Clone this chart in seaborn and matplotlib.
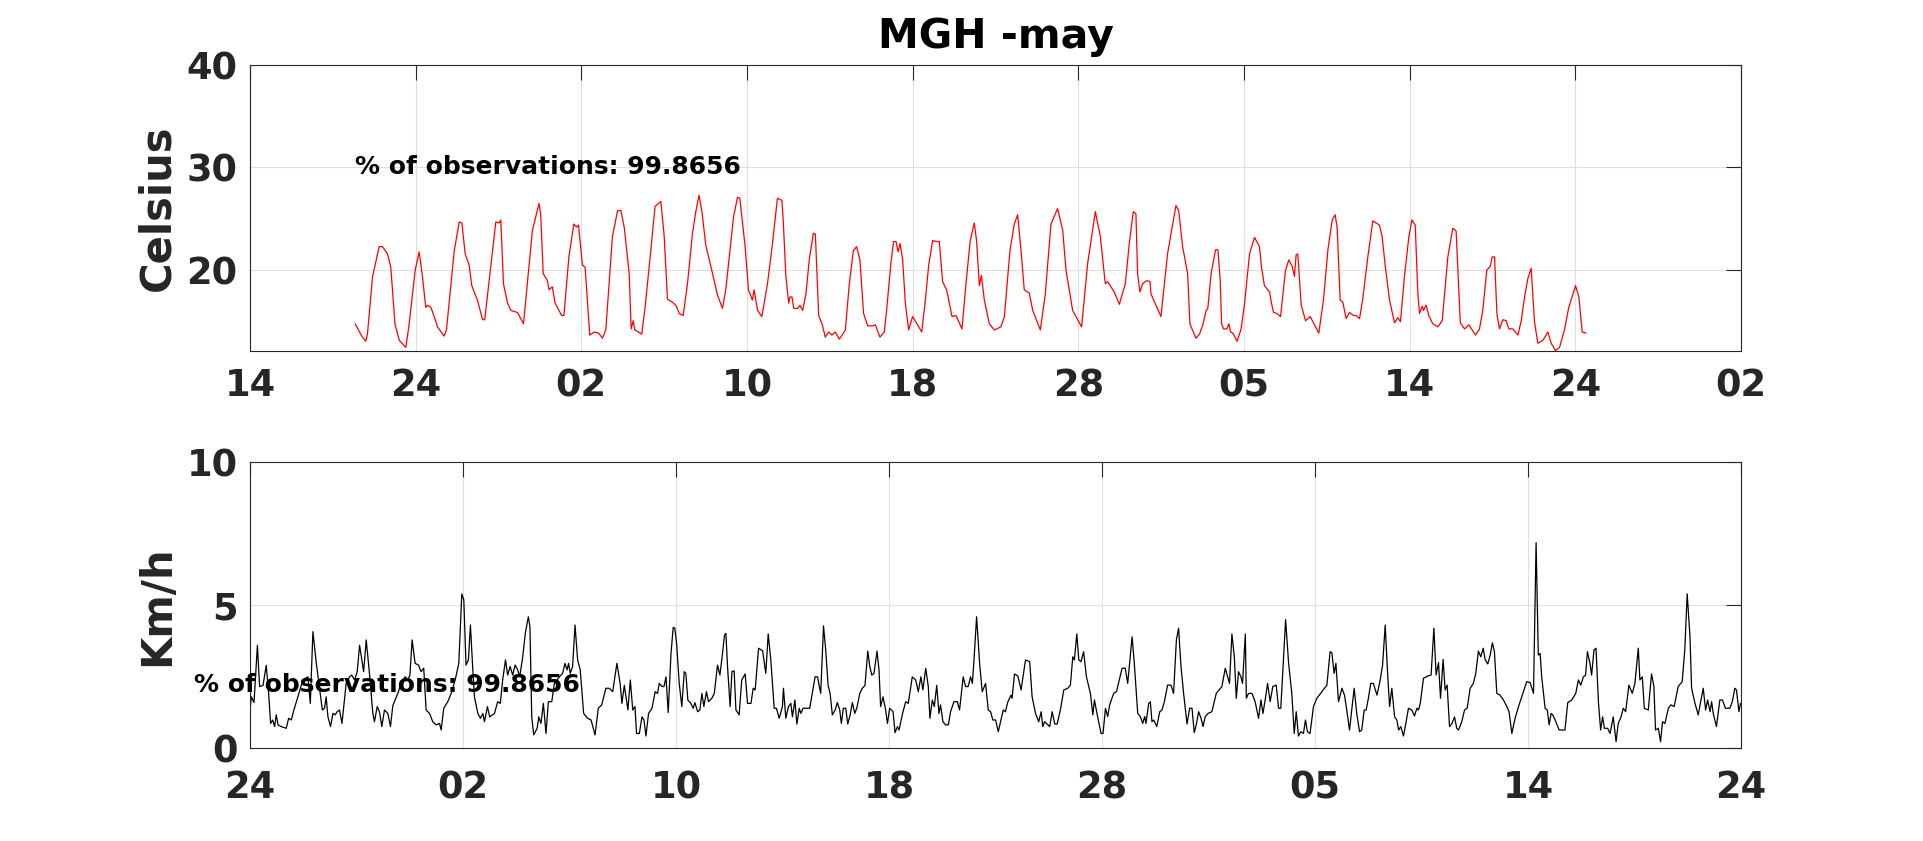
import numpy as np
import pandas as pd
import seaborn as sns
import matplotlib.pyplot as plt

sns.set_style("white")
plt.rcParams['font.family'] = ['DejaVu Sans']
plt.rcParams['font.weight'] = 'bold'

## hourly readings, May (hours from start of record)
temp_hour = [0, 4, 6.4, 7.4, 10.5, 14.5, 16.5, 19.5, 21.5, 24, 26.6, 30.6, 32.6, 36.2, 38.6, 40.6, 42.6, 43.7, 45.7, 47.7,
             49.7, 53.7, 55.1, 59.8, 62.8, 64.4, 66.4, 68.8, 70.4, 73.8, 76.9, 78.2, 82.9, 84.9, 86.9, 87.9, 89.5, 92, 94, 98,
             101.6, 107, 111, 112, 113.5, 116, 117, 119, 120.7, 124.7, 126, 129, 132, 133.6, 134.8, 137.2, 138.8, 141.6, 144.3, 146.9,
             149.3, 151.3, 155.3, 158.4, 160.4, 162.4, 165.4, 166.6, 167.8, 168.8, 173, 175, 178.5, 181, 184.5, 186.5, 188.5, 191.5, 193.6, 195.6,
             198, 200.6, 203.6, 205.6, 207.6, 209.3, 211.7, 215.7, 218.7, 221.7, 223.7, 228.4, 230.8, 232.2, 235.4, 237.4, 239.8, 240.8, 242.9, 245.5,
             248.9, 251.9, 254.9, 257.6, 258.5, 260, 261.7, 262.5, 263.7, 264.7, 267.1, 268.5, 270.1, 272.1, 274.1, 276.6, 277.8, 279.8, 281.8, 283.8,
             285.8, 287.8, 289.8, 292.3, 295.9, 298.3, 300.7, 302.7, 304.7, 306.9, 309.4, 312.4, 314, 316.8, 319.4, 320.8, 323.4, 325, 326.5, 327.7,
             328.9, 330.5, 332.1, 334.1, 336.5, 339.5, 342, 344.2, 346.2, 348.6, 350.6, 352.6, 354.6, 357, 360.3, 362.7, 366.3, 368.7, 371.3, 373.7,
             375.1, 376.8, 378, 379.8, 382.8, 385.8, 389.8, 391.9, 395.3, 397.9, 399.9, 401.9, 403.9, 406.9, 409, 413.6, 416.6, 420, 424, 427.1,
             429.1, 433.1, 438.5, 442.2, 446.8, 449.8, 452.8, 454.2, 458.2, 461.3, 464.9, 467.3, 469.7, 471.3, 472.3, 473.7, 475.4, 477.8, 479.8, 480.4,
             486.4, 490.4, 493.5, 495.5, 497.1, 499.5, 502.5, 503.9, 507.5, 509.7, 511.7, 513.7, 514.7, 516.7, 519.4, 520.8, 522.2, 523, 524.2, 526.2,
             527.4, 528.4, 529.8, 532.4, 534.8, 536.9, 539.9, 542.9, 545.9, 547.1, 548.9, 552, 553, 554.4, 556.4, 558.6, 561.6, 563.6, 565.6, 567,
             568, 569, 571.1, 573.7, 576.5, 579.1, 581.7, 584.5, 587.2, 589.8, 591.6, 592.8, 594.6, 596.2, 598.2, 600.2, 602.7, 604.3, 606.3, 608.3,
             611.3, 614.3, 618.3, 619.9, 621.9, 624.4, 627.4, 629.4, 631, 633.4, 636.1, 637.9, 639.9, 641.5, 642.5, 644.1, 644.9, 646.5, 648.1, 650.5,
             653.6, 656.2, 659.6, 662.6, 664.6, 667.1, 669.7, 672.3, 676.3, 678.7, 680.7, 683.1, 685.2, 686.4, 687.8, 689.2, 690.8, 692.8, 694.8, 696.4,
             698.8, 701.9, 703.9, 705.9, 707.9, 709.9, 711.9, 713.9, 717, 720, 722, 724.6, 727, 730, 732.6, 736.7, 738.7, 740.7, 743]
temp_val = [14.8, 13.6, 13.1, 13.8, 19.4, 22.3, 22.3, 21.6, 20.3, 14.8, 13.2, 12.5, 14.8, 20.0, 21.8, 19.4, 16.4, 16.6, 16.4, 15.5,
            14.5, 13.6, 14.2, 21.9, 24.7, 24.6, 21.6, 20.5, 18.5, 17.1, 15.2, 15.2, 21.9, 24.7, 24.6, 24.9, 18.7, 16.8, 16.1, 15.9,
            14.8, 23.9, 26.5, 25.4, 19.7, 19.0, 18.1, 18.4, 16.8, 15.6, 15.6, 21.3, 24.5, 24.2, 24.4, 20.5, 20.3, 13.7, 14.0, 13.9,
            13.4, 14.2, 23.3, 25.8, 25.8, 24.2, 19.7, 14.3, 15.1, 14.2, 13.8, 16.4, 22.0, 26.2, 26.7, 23.4, 17.2, 16.9, 16.6, 15.8,
            15.6, 18.7, 23.6, 25.7, 27.3, 25.7, 22.4, 19.7, 17.6, 16.3, 18.1, 25.2, 27.1, 27.0, 22.3, 18.1, 17.1, 18.1, 16.1, 15.5,
            18.7, 22.6, 27.0, 26.8, 24.5, 19.4, 16.8, 17.4, 17.4, 16.3, 16.3, 16.6, 16.1, 17.7, 21.0, 23.6, 23.5, 15.6, 14.8, 13.5,
            14.0, 13.7, 14.0, 13.3, 14.2, 18.7, 21.9, 22.3, 21.0, 15.8, 14.6, 14.6, 14.7, 13.5, 14.0, 16.1, 20.7, 22.8, 22.8, 21.8,
            22.6, 21.0, 16.8, 14.2, 15.5, 14.7, 14.0, 17.1, 20.5, 22.9, 22.8, 22.8, 18.9, 18.1, 15.5, 15.6, 14.3, 18.7, 22.9, 24.6,
            22.9, 18.5, 19.5, 17.1, 14.8, 14.2, 14.5, 15.5, 22.0, 24.5, 25.4, 22.0, 18.1, 17.8, 16.1, 14.2, 17.7, 24.5, 26.0, 23.9,
            20.0, 16.1, 14.5, 20.7, 25.7, 23.3, 18.7, 18.9, 17.9, 16.7, 18.7, 22.6, 25.7, 25.5, 19.7, 17.9, 18.7, 19.0, 18.9, 17.7,
            15.5, 21.6, 24.5, 26.3, 25.8, 22.3, 19.7, 14.8, 13.4, 13.8, 14.7, 16.1, 16.3, 19.7, 22.0, 22.0, 19.0, 14.8, 14.3, 14.3,
            14.8, 14.0, 13.9, 13.1, 14.3, 16.8, 21.6, 23.2, 22.3, 20.3, 18.5, 17.9, 16.9, 15.9, 15.8, 15.5, 20.0, 21.0, 20.4, 19.4,
            21.5, 21.6, 16.6, 15.1, 15.5, 14.7, 13.9, 17.1, 22.0, 24.9, 25.4, 24.1, 17.1, 16.9, 15.3, 15.9, 15.6, 15.6, 15.3, 17.3,
            21.3, 24.8, 24.4, 23.3, 20.3, 17.1, 14.9, 15.4, 15.0, 19.4, 23.3, 24.9, 24.4, 17.7, 15.8, 16.5, 16.1, 16.6, 15.6, 14.8,
            14.5, 15.1, 21.3, 24.1, 23.8, 14.9, 14.3, 14.7, 13.7, 14.3, 16.1, 20.0, 20.4, 21.3, 21.3, 15.8, 14.3, 15.2, 15.1, 14.3,
            14.3, 13.7, 15.1, 17.4, 19.2, 20.2, 15.0, 12.9, 13.2, 14.0, 12.9, 12.2, 12.5, 14.2, 16.4, 18.5, 17.4, 14.0, 13.9]

wind_hour = [0, 0.7, 2.0, 3.7, 4.8, 6.5, 8.1, 9.3, 10.3, 11.3, 12.3, 13.1, 14.0, 15.6, 18.1, 19.3, 20.6, 21.9, 23.9, 26.4,
             28.9, 30.1, 31.4, 33.1, 34.8, 36.1, 37.2, 38.0, 38.9, 40.2, 41.4, 42.5, 43.5, 44.7, 45.9, 48.0, 49.7, 50.8, 52.2, 53.5,
             54.7, 56.7, 58.0, 59.7, 61.3, 62.1, 63.5, 64.6, 65.8, 67.1, 68.8, 70.1, 71.3, 73.8, 75.4, 77.4, 78.8, 79.8, 80.9, 82.4,
             84.1, 85.4, 86.7, 87.9, 89.6, 91.2, 92.9, 94.6, 95.4, 96.7, 98.7, 100.4, 102.4, 104.2, 105.7, 106.7, 107.8, 109.0, 110.0, 111.2,
             112.0, 113.7, 115.0, 116.2, 117.0, 118.5, 119.6, 122.0, 123.6, 124.9, 126.1, 127.5, 128.6, 129.8, 131.1, 132.3, 133.6, 134.6, 136.1, 137.4,
             138.9, 139.7, 140.6, 141.6, 143.3, 144.1, 145.2, 146.4, 147.7, 148.9, 150.6, 151.9, 154.4, 156.0, 157.2, 158.2, 159.0, 159.8, 161.0, 162.2,
             163.5, 164.8, 166.5, 168.5, 170.2, 172.2, 173.8, 175.5, 177.6, 179.3, 181.0, 183.1, 184.7, 185.6, 186.8, 188.6, 189.8, 191.0, 192.1, 192.9,
             194.3, 195.6, 196.6, 197.6, 198.9, 200.6, 202.2, 203.4, 204.2, 205.6, 206.6, 207.6, 208.7, 210.1, 211.2, 212.0, 212.9, 214.2, 215.5, 216.7,
             217.5, 218.5, 220.0, 221.2, 222.0, 223.4, 224.5, 225.5, 226.5, 227.8, 228.8, 230.5, 231.7, 233.3, 234.5, 235.8, 236.8, 237.5, 238.3, 239.6,
             240.5, 241.6, 242.5, 244.1, 245.4, 247.1, 248.3, 250.0, 251.1, 252.1, 253.8, 255.8, 257.4, 258.6, 259.9, 261.6, 262.7, 264.1, 265.7, 266.2,
             267.4, 268.7, 269.9, 270.7, 271.9, 272.9, 274.1, 274.9, 276.0, 277.4, 279.3, 280.3, 282.0, 283.2, 284.8, 286.2, 287.3, 288.5, 289.5, 290.6,
             292.0, 293.1, 294.3, 295.1, 296.1, 297.3, 298.3, 299.5, 300.6, 301.8, 302.8, 304.3, 305.6, 306.9, 308.3, 309.3, 310.3, 311.4, 312.9, 313.9,
             314.7, 315.9, 317.2, 318.1, 319.2, 320.9, 321.9, 323.1, 323.9, 325.5, 327.2, 328.5, 330.5, 332.2, 333.5, 334.8, 335.8, 337.2, 338.5, 339.3,
             340.5, 341.5, 342.7, 343.8, 344.6, 345.8, 347.1, 348.5, 349.6, 351.3, 353.0, 354.1, 355.9, 357.1, 358.4, 359.6, 360.5, 361.3, 362.6, 364.1,
             365.4, 367.1, 368.4, 369.6, 370.7, 372.1, 373.4, 375.9, 377.0, 378.2, 379.8, 380.3, 381.5, 383.2, 384.8, 387.0, 389.1, 390.3, 392.0, 393.6,
             394.8, 395.6, 396.5, 399.1, 400.3, 401.6, 402.8, 404.4, 406.1, 408.1, 409.4, 410.6, 411.4, 412.6, 413.6, 414.7, 416.0, 417.4, 419.4, 420.6,
             421.4, 423.0, 424.7, 425.7, 426.9, 428.0, 429.0, 431.0, 432.4, 435.2, 436.8, 438.0, 440.2, 441.3, 443.0, 444.3, 445.5, 446.5, 447.1, 448.5,
             449.3, 450.1, 451.0, 452.5, 454.0, 455.1, 456.3, 457.9, 459.6, 460.9, 462.3, 463.4, 464.6, 465.9, 467.6, 468.9, 470.1, 471.2, 472.2, 473.4,
             474.6, 475.6, 476.7, 478.1, 480.0, 482.2, 485.0, 486.7, 488.8, 490.0, 491.2, 492.2, 493.3, 494.5, 495.3, 496.7, 497.2, 498.3, 500.0, 501.6,
             503.3, 504.5, 505.5, 506.6, 507.8, 509.1, 510.4, 512.1, 513.3, 514.4, 516.8, 518.3, 519.9, 521.1, 522.1, 523.2, 524.4, 525.7, 526.7, 527.7,
             529.0, 530.7, 532.4, 534.9, 537.4, 539.0, 539.9, 541.0, 541.9, 543.2, 544.9, 546.2, 547.3, 548.7, 549.8, 551.0, 552.3, 553.7, 554.8, 556.0,
             557.0, 558.1, 559.3, 560.6, 562.4, 564.0, 565.2, 566.5, 567.7, 568.7, 569.8, 571.2, 572.3, 573.2, 574.3, 575.6, 576.8, 578.1, 579.8, 581.1,
             582.3, 583.1, 584.0, 585.6, 587.8, 589.4, 590.8, 591.9, 593.1, 594.1, 595.4, 596.4, 597.4, 598.6, 599.7, 601.1, 602.2, 603.1, 604.7, 606.1,
             607.4, 608.9, 610.5, 611.7, 613.0, 614.2, 615.4, 616.4, 617.7, 618.9, 620.0, 621.0, 622.2, 623.8, 625.5, 627.2, 628.3, 629.7, 631.3, 633.3,
             635.5, 637.1, 638.8, 640.5, 641.8, 642.9, 643.8, 644.6, 646.3, 647.4, 648.3, 649.3, 650.1, 651.3, 653.3, 656.2, 657.6, 659.6, 661.6, 662.9,
             664.1, 665.4, 666.5, 667.4, 668.7, 669.5, 670.7, 671.7, 672.9, 674.0, 675.0, 675.9, 677.5, 678.7, 680.3, 681.7, 682.8, 684.2, 685.3, 686.5,
             688.1, 689.8, 691.1, 692.8, 693.6, 694.8, 695.8, 697.8, 699.4, 700.6, 701.4, 702.8, 703.9, 704.9, 706.1, 707.8, 709.1, 710.7, 712.7, 714.7,
             716.0, 717.2, 718.6, 719.4, 721.1, 722.7, 724.4, 725.2, 726.4, 727.4, 728.6, 729.4, 730.2, 731.8, 733.5, 734.8, 736.3, 738.5, 739.7, 741.0,
             741.8, 743.0, 743.8]
wind_val = [1.34, 1.8, 1.6, 3.6, 2.16, 2.2, 2.9, 1.92, 0.87, 0.99, 0.76, 1.17, 0.82, 0.76, 0.7, 1.05, 0.99, 1.34, 1.8, 2.4,
            2.5, 1.57, 4.08, 2.97, 2.04, 1.34, 1.4, 1.8, 1.1, 0.76, 1.22, 1.17, 1.28, 1.34, 0.87, 2.27, 2.5, 2.56, 2.39, 2.68,
            3.6, 2.68, 3.79, 2.56, 1.22, 0.93, 1.46, 1.28, 0.76, 1.34, 1.22, 0.76, 1.5, 1.92, 2.27, 2.5, 2.39, 2.56, 3.79, 2.97,
            2.91, 2.68, 2.8, 1.34, 1.22, 0.93, 0.82, 0.87, 0.64, 1.4, 1.63, 1.92, 2.39, 2.97, 5.4, 5.19, 2.91, 3.09, 4.31, 2.74,
            1.8, 1.22, 1.05, 1.22, 0.93, 1.46, 1.1, 1.22, 1.63, 1.57, 2.39, 3.09, 2.56, 2.86, 2.56, 2.91, 2.74, 2.5, 3.2, 4.02,
            4.6, 4.25, 1.1, 0.47, 0.7, 1.1, 0.87, 1.57, 0.52, 1.63, 1.63, 2.27, 2.5, 2.62, 2.97, 2.74, 2.97, 2.62, 2.86, 4.31,
            3.09, 2.74, 1.22, 1.05, 0.99, 0.47, 1.4, 1.52, 2.1, 2.1, 1.98, 2.97, 2.27, 1.57, 2.2, 1.34, 2.39, 1.34, 1.46, 0.52,
            0.52, 1.1, 0.99, 0.43, 1.22, 1.4, 1.98, 1.92, 2.27, 2.16, 2.16, 2.5, 1.25, 3.32, 4.23, 4.2, 3.67, 2.27, 1.46, 2.68,
            2.62, 1.69, 1.57, 1.4, 1.6, 1.28, 1.34, 1.92, 1.46, 1.98, 1.63, 1.75, 1.92, 2.91, 2.56, 3.32, 3.96, 4.02, 2.86, 1.46,
            2.68, 2.71, 1.34, 1.17, 2.39, 2.6, 1.57, 1.57, 2.1, 2.04, 3.5, 3.41, 2.62, 4.0, 3.09, 1.4, 1.4, 1.05, 1.46, 2.1,
            1.05, 1.46, 1.57, 1.1, 1.69, 0.85, 1.4, 1.22, 1.4, 1.4, 1.4, 1.8, 2.5, 2.5, 1.92, 4.28, 3.44, 2.2, 1.92, 1.17,
            1.34, 1.6, 1.34, 0.87, 1.4, 1.4, 0.85, 1.17, 1.6, 1.22, 1.4, 1.92, 2.1, 2.2, 3.4, 2.86, 2.56, 2.62, 3.4, 2.74,
            1.46, 1.8, 1.34, 0.87, 1.4, 1.28, 0.55, 0.76, 0.64, 1.17, 1.63, 1.57, 2.5, 2.39, 1.98, 2.5, 2.04, 2.8, 2.16, 1.05,
            1.69, 1.46, 2.2, 1.22, 1.52, 0.93, 0.82, 0.82, 1.28, 1.63, 1.63, 1.34, 2.5, 2.16, 2.16, 2.5, 2.27, 3.09, 4.6, 2.97,
            1.98, 2.27, 1.34, 1.28, 0.99, 0.99, 0.58, 1.34, 1.28, 1.63, 1.86, 1.75, 2.6, 2.53, 2.04, 3.09, 3.03, 1.8, 1.22, 0.93,
            1.28, 0.76, 0.93, 0.76, 1.28, 0.85, 0.85, 1.34, 2.04, 2.1, 2.21, 3.2, 3.09, 4.0, 3.09, 3.03, 3.38, 2.5, 1.92, 1.17,
            1.69, 1.1, 0.52, 0.52, 1.4, 1.11, 1.52, 1.92, 1.98, 2.8, 2.8, 2.27, 3.9, 2.97, 1.22, 1.11, 0.87, 1.11, 0.87, 1.57,
            1.63, 0.93, 0.99, 0.76, 1.28, 1.34, 1.63, 2.21, 2.21, 1.92, 3.79, 4.2, 2.86, 1.92, 0.85, 1.4, 1.4, 0.55, 0.82, 1.28,
            1.05, 0.76, 1.11, 1.22, 1.28, 1.92, 2.16, 2.8, 2.27, 4.0, 3.2, 1.75, 2.68, 2.5, 2.27, 4.0, 1.75, 1.92, 1.92, 1.63,
            1.05, 1.69, 1.22, 1.69, 2.27, 1.63, 2.16, 2.21, 1.4, 1.4, 4.5, 2.97, 1.92, 0.52, 1.28, 0.43, 0.58, 0.52, 0.99, 0.58,
            0.52, 1.46, 1.75, 1.98, 2.21, 3.38, 3.34, 2.62, 2.97, 1.63, 2.1, 1.86, 1.34, 0.64, 1.34, 2.1, 1.22, 0.58, 0.64, 1.34,
            1.34, 1.75, 2.27, 2.27, 1.86, 2.39, 2.91, 4.31, 2.62, 1.46, 2.1, 1.1, 0.99, 0.64, 0.76, 0.43, 0.87, 1.4, 1.34, 1.13,
            1.4, 1.34, 1.57, 2.45, 2.53, 2.56, 4.2, 2.56, 3.0, 1.75, 3.11, 2.04, 2.21, 0.76, 0.85, 1.1, 0.7, 0.64, 0.93, 1.34,
            1.4, 2.1, 2.27, 2.62, 3.4, 3.2, 3.5, 3.09, 2.95, 3.26, 3.69, 3.38, 1.92, 1.86, 1.69, 1.46, 1.28, 0.52, 1.05, 1.52,
            1.98, 2.33, 2.3, 1.92, 7.19, 3.26, 3.32, 2.5, 1.4, 1.34, 0.82, 1.22, 1.17, 0.99, 0.64, 0.64, 1.6, 1.69, 1.92, 2.39,
            2.21, 2.5, 2.56, 3.38, 2.97, 2.56, 3.44, 3.5, 1.63, 0.64, 1.1, 0.7, 0.7, 0.52, 1.1, 0.23, 0.87, 1.1, 1.4, 1.28,
            2.21, 1.92, 2.27, 3.5, 2.39, 2.5, 1.4, 1.34, 2.6, 2.16, 0.64, 0.7, 0.23, 0.93, 0.87, 1.4, 1.52, 1.46, 2.16, 2.33,
            3.44, 5.4, 3.9, 2.1, 1.57, 1.17, 1.8, 2.1, 1.34, 1.69, 1.28, 1.63, 1.22, 0.76, 1.69, 1.69, 1.4, 1.4, 1.63, 2.1,
            2.04, 1.28, 1.57]

top_tick_labels = ['14', '24', '02', '10', '18', '28', '05', '14', '24', '02']
bottom_tick_labels = ['24', '02', '10', '18', '28', '05', '14', '24']
obs_pct = '99.8656'

temp_df = pd.DataFrame({'hour': temp_hour, 'celsius': temp_val})
wind_df = pd.DataFrame({'hour': wind_hour, 'kmh': wind_val})

fig = plt.figure(figsize=(19.23, 8.41), dpi=100)
ax1 = fig.add_axes([0.130, 0.5832, 0.7753, 0.340])
ax2 = fig.add_axes([0.130, 0.1102, 0.7753, 0.3401])

sns.lineplot(data=temp_df, x='hour', y='celsius', ax=ax1, color='red', lw=0.9, estimator=None)
sns.lineplot(data=wind_df, x='hour', y='kmh', ax=ax2, color='black', lw=0.9, estimator=None)


def matlab_axes(ax, xpad):
    # box on, ticks inside, light grid
    ax.tick_params(direction='in', length=11, width=0.8, top=True, right=True,
                   labelsize=26.5, colors='#262626')
    ax.tick_params(axis='x', pad=xpad)
    ax.tick_params(axis='y', pad=9)
    for s in ax.spines.values():
        s.set_visible(True)
        s.set_color('#262626')
        s.set_linewidth(0.8)
    ax.grid(True, color='#dfdfdf', lw=0.8)
    ax.set_axisbelow(True)
    ax.set_xlabel('')
    for lab in ax.get_xticklabels() + ax.get_yticklabels():
        lab.set_fontweight('bold')


# top panel
ax1.set_xlim(-63.5, 836.5)
ax1.set_xticks(np.linspace(-63.5, 836.5, len(top_tick_labels)))
ax1.set_xticklabels(top_tick_labels)
ax1.set_ylim(min(temp_val), 40)
ax1.set_yticks([20, 30, 40])
matlab_axes(ax1, 12)
ax1.set_ylabel('Celsius', fontsize=30, fontweight='bold', color='#262626')
ax1.yaxis.set_label_coords(-0.048, 0.5)
ax1.set_title('MGH -may', fontsize=29.5, fontweight='bold', pad=12, color='black')
ax1.text(temp_hour[0], 30, '% of observations: ' + obs_pct, fontsize=18,
         fontweight='bold', va='center', ha='left', color='black')

# bottom panel
ax2.set_xlim(0, 744)
ax2.set_xticks(np.linspace(0, 744, len(bottom_tick_labels)))
ax2.set_xticklabels(bottom_tick_labels)
ax2.set_ylim(0, 10)
ax2.set_yticks([0, 5, 10])
matlab_axes(ax2, 15)
ax2.set_ylabel('Km/h', fontsize=30, fontweight='bold', color='#262626')
ax2.yaxis.set_label_coords(-0.048, 0.5)
ax2.text(-28, 2.2, '% of observations: ' + obs_pct, fontsize=18,
         fontweight='bold', va='center', ha='left', clip_on=False, color='black')

fig.savefig('out.png', dpi=100)
